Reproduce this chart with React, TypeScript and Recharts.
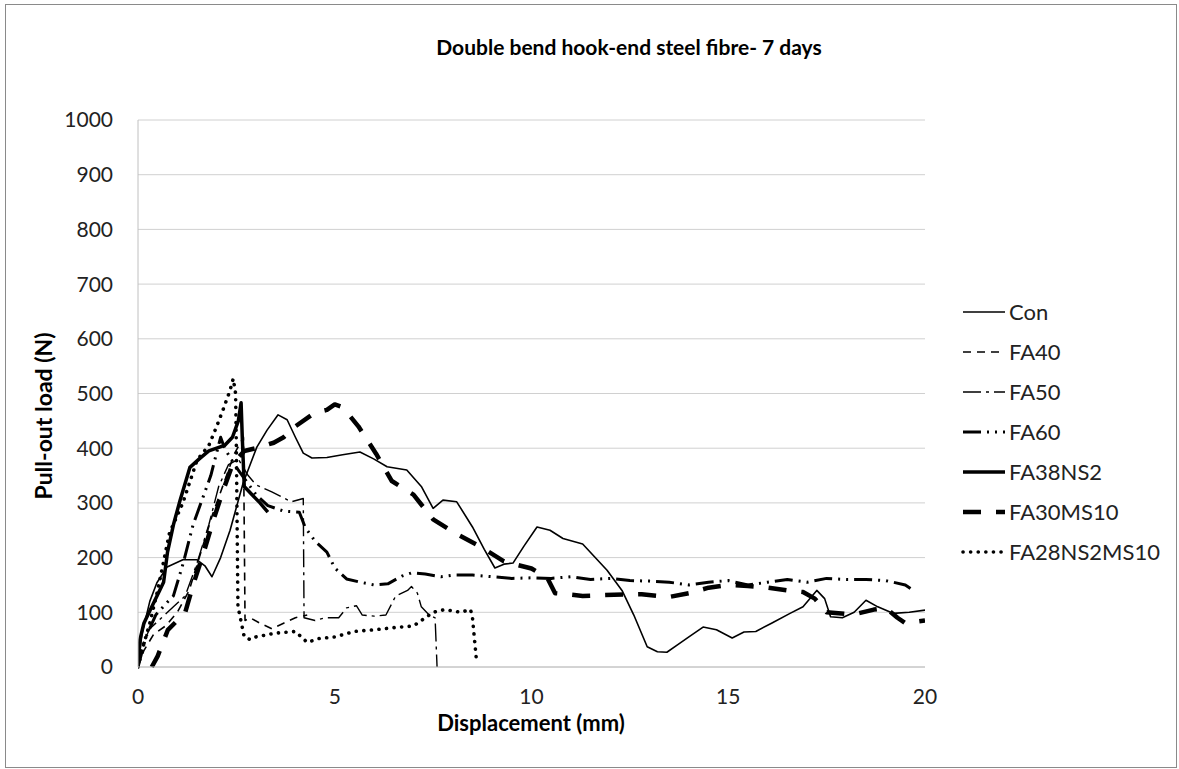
import React from "react";
import { LineChart, Line, XAxis, YAxis, CartesianGrid } from "recharts";

// ---- data: [displacement (mm), pull-out load (N)] ----
const conData = [[0,0],[0.1,60],[0.3,120],[0.48,154],[0.74,183],[1.14,196],[1.5,196],[1.7,185],[1.88,165],[2.1,200],[2.34,250],[2.67,336],[3.02,402],[3.28,433],[3.56,461],[3.79,452],[4.0,420],[4.2,391],[4.42,382],[4.8,383],[5.2,388],[5.64,393],[6.0,380],[6.33,366],[6.83,360],[7.2,330],[7.5,290],[7.75,305],[8.1,302],[8.5,256],[8.8,215],[9.07,181],[9.3,188],[9.53,190],[9.8,220],[10.14,256],[10.47,250],[10.8,235],[11.3,225],[11.92,177],[12.3,140],[12.6,95],[12.94,37],[13.2,28],[13.44,27],[13.7,40],[14.0,55],[14.36,73],[14.7,68],[15.1,53],[15.4,64],[15.7,65],[16.1,80],[16.57,98],[16.9,110],[17.25,140],[17.45,125],[17.6,92],[17.9,90],[18.2,100],[18.5,122],[18.8,110],[19.2,98],[19.6,100],[20,104]];
const fa40Data = [[0,0],[0.15,30],[0.4,60],[0.7,75],[1.0,100],[1.3,140],[1.6,210],[1.9,280],[2.2,340],[2.45,390],[2.68,420],[2.72,85],[2.85,90],[3.1,80],[3.4,70],[3.7,80],[4.0,90],[4.3,95]];
const fa50Data = [[0,0],[0.1,40],[0.3,70],[0.6,90],[0.9,110],[1.2,130],[1.5,190],[1.8,260],[2.05,330],[2.3,370],[2.55,380],[2.8,350],[3.0,333],[3.4,320],[3.9,302],[4.2,308],[4.22,90],[4.5,85],[4.75,90],[5.1,90],[5.3,108],[5.55,112],[5.7,95],[6.0,93],[6.3,95],[6.55,130],[6.85,140],[6.95,147],[7.1,135],[7.2,110],[7.4,95],[7.55,90],[7.6,0]];
const fa60Data = [[0,0],[0.2,55],[0.45,95],[0.7,115],[0.9,130],[1.15,190],[1.4,260],[1.6,300],[1.85,350],[2.1,420],[2.2,400],[2.45,370],[2.7,345],[3.0,315],[3.3,295],[3.7,285],[4.1,283],[4.25,255],[4.5,230],[4.8,210],[5.0,181],[5.3,161],[5.65,155],[6.0,150],[6.35,152],[6.7,166],[6.95,172],[7.3,170],[7.7,165],[8.0,168],[8.5,168],[9.0,165],[9.5,162],[10.0,163],[10.5,162],[11.0,165],[11.5,160],[12.0,162],[12.5,158],[13.0,157],[13.5,155],[14.0,150],[14.5,155],[15.0,158],[15.5,150],[16.0,155],[16.5,160],[17.0,155],[17.5,162],[18.0,160],[18.5,160],[19.0,158],[19.5,150],[19.7,140]];
const fa38ns2Data = [[0,0],[0.05,50],[0.15,80],[0.35,110],[0.55,140],[0.65,155],[0.75,210],[0.9,260],[1.07,305],[1.32,365],[1.55,380],[1.8,395],[2.0,400],[2.2,405],[2.4,420],[2.55,450],[2.62,483],[2.65,420],[2.7,330],[2.9,315],[3.1,300],[3.3,283]];
const fa30ms10Data = [[0.35,0],[0.5,20],[0.76,68],[1.0,85],[1.2,100],[1.4,150],[1.65,205],[1.9,265],[2.15,320],[2.4,370],[2.7,395],[3.0,400],[3.45,410],[3.7,420],[4.0,440],[4.5,465],[4.8,470],[5.0,480],[5.2,475],[5.6,440],[6.05,390],[6.45,340],[7.0,315],[7.5,270],[8.05,245],[8.7,220],[9.3,193],[10.0,180],[10.4,163],[10.6,135],[11.3,130],[12.1,132],[12.8,133],[13.5,128],[14.0,135],[14.5,145],[15.0,150],[15.5,148],[16.0,145],[16.5,140],[16.9,137],[17.2,125],[17.5,100],[18.0,97],[18.3,98],[18.7,105],[19.0,108],[19.3,90],[19.5,80],[20,85]];
const fa28Data = [[0,0],[0.1,30],[0.3,80],[0.5,140],[0.8,245],[1.14,300],[1.5,378],[1.8,405],[2.0,440],[2.16,470],[2.34,506],[2.42,527],[2.48,500],[2.5,400],[2.52,250],[2.54,110],[2.6,90],[2.7,55],[2.85,50],[3.0,55],[3.5,62],[4.0,65],[4.3,45],[4.6,52],[5.0,55],[5.5,65],[6.0,68],[6.5,72],[7.0,75],[7.3,90],[7.5,100],[7.8,105],[8.2,100],[8.45,105],[8.5,90],[8.6,13]];

const xTicks = [0, 5, 10, 15, 20];
const yTicks = [0, 100, 200, 300, 400, 500, 600, 700, 800, 900, 1000];
const seriesNames = ["Con", "FA40", "FA50", "FA60", "FA38NS2", "FA30MS10", "FA28NS2MS10"];

const toRows = (d: number[][]) => d.map(([x, y]) => ({ x, y }));

const styles = [
  { data: conData, w: 1.6, dash: undefined, cap: "butt" },
  { data: fa40Data, w: 1.6, dash: "8 6", cap: "butt" },
  { data: fa50Data, w: 1.4, dash: "18 5 3 5", cap: "butt" },
  { data: fa60Data, w: 3, dash: "18 6 2 6 2 6", cap: "butt" },
  { data: fa38ns2Data, w: 3.5, dash: undefined, cap: "butt" },
  { data: fa30ms10Data, w: 4.5, dash: "18 15", cap: "butt" },
  { data: fa28Data, w: 3.6, dash: "0.1 7.5", cap: "round" },
];

const FONT = "Lato, 'Open Sans', sans-serif";

export default function App() {
  const legendY0 = 312;
  return (
    <div style={{ position: "absolute", left: 0, top: 0, width: 1179, height: 769, background: "#fff", fontFamily: FONT }}>
      <LineChart width={1179} height={769} margin={{ top: 120, right: 254, bottom: 72, left: 78 }}>
        <CartesianGrid vertical={false} stroke="#d0d0d0" strokeWidth={1} />
        <XAxis
          dataKey="x"
          type="number"
          domain={[0, 20]}
          ticks={xTicks}
          allowDataOverflow
          height={30}
          tickLine={false}
          tickSize={0}
          tickMargin={22}
          axisLine={{ stroke: "#c0c0c0" }}
          tick={{ fontSize: 21, fill: "#222", fontFamily: FONT }}
        />
        <YAxis
          type="number"
          domain={[0, 1000]}
          ticks={yTicks}
          width={60}
          tickLine={false}
          tickSize={0}
          tickMargin={25}
          axisLine={{ stroke: "#c0c0c0" }}
          tick={{ fontSize: 21, fill: "#222", fontFamily: FONT }}
        />
        {styles.map((s, i) => (
          <Line
            key={seriesNames[i]}
            name={seriesNames[i]}
            data={toRows(s.data)}
            dataKey="y"
            type="linear"
            stroke="#000"
            strokeWidth={s.w}
            strokeDasharray={s.dash}
            strokeLinecap={s.cap as any}
            strokeLinejoin="round"
            dot={false}
            activeDot={false}
            isAnimationActive={false}
          />
        ))}
      </LineChart>
      <svg width={1179} height={769} style={{ position: "absolute", left: 0, top: 0, pointerEvents: "none" }}>
        <rect x={5.5} y={4.5} width={1171} height={763} fill="none" stroke="#8a8a8a" strokeWidth={1} />
        <text x={629} y={55} textAnchor="middle" fontSize={21} fontWeight="bold" fontFamily={FONT} fill="#000">
          Double bend hook-end steel fibre- 7 days
        </text>
        <text transform="translate(44,416) rotate(-90)" y={8} textAnchor="middle" fontSize={23} fontWeight="bold" fontFamily={FONT} fill="#000">
          Pull-out load (N)
        </text>
        <text x={531} y={731} textAnchor="middle" fontSize={22} fontWeight="bold" fontFamily={FONT} fill="#000">
          Displacement (mm)
        </text>
        {styles.map((s, i) => {
          const y = legendY0 + i * 40;
          return (
            <g key={seriesNames[i]}>
              <line x1={963} x2={1005} y1={y} y2={y} stroke="#000" strokeWidth={s.w} strokeDasharray={s.dash} strokeLinecap={s.cap as any} />
              <text x={1009} y={y + 8} fontSize={22} fontFamily={FONT} fill="#222">
                {seriesNames[i]}
              </text>
            </g>
          );
        })}
      </svg>
    </div>
  );
}
